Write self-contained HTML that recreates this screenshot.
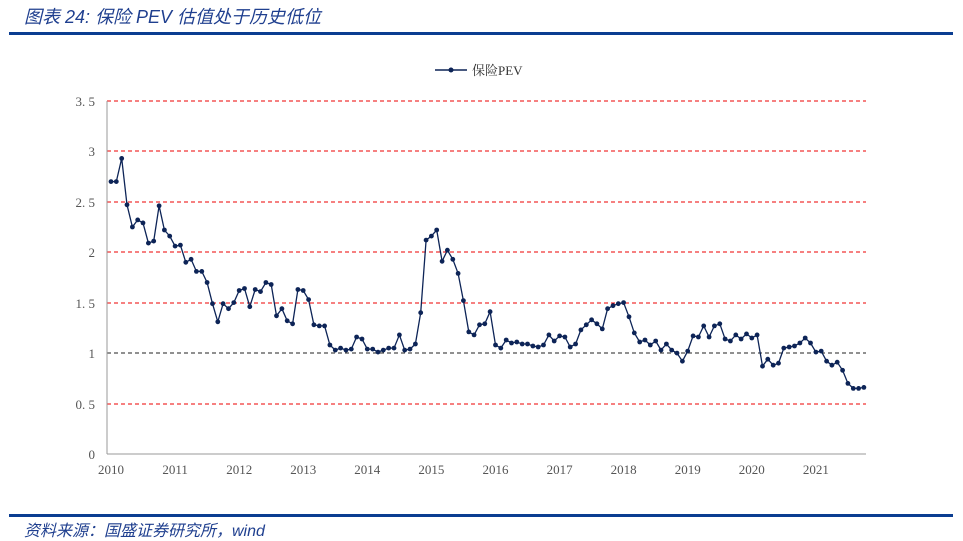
<!DOCTYPE html><html><head><meta charset="utf-8"><style>
body{margin:0;width:963px;height:541px;background:#fff;overflow:hidden;position:relative;font-family:"Liberation Sans","Noto Sans CJK SC",sans-serif}
.t{position:absolute;left:24px;top:3px;font-size:18px;font-style:italic;color:#1f3f8f}
.f{position:absolute;left:24px;top:517px;font-size:16px;font-style:italic;color:#1f3f8f}
</style></head><body>
<div class="t">图表 24:  保险 PEV 估值处于历史低位</div>
<div style="position:absolute;left:9px;top:32px;width:944px;height:3px;background:#0b3d91"></div>
<div style="position:absolute;left:9px;top:514px;width:944px;height:3px;background:#0b3d91"></div>
<div class="f">资料来源：国盛证券研究所，wind</div>
<svg width="963" height="541" style="position:absolute;left:0;top:0" font-family="Liberation Serif,serif" font-size="13" fill="#555">
<g stroke="#e00" stroke-dasharray="4,3" stroke-width="1">
<line x1="107" x2="866" y1="101" y2="101"/><line x1="107" x2="866" y1="151" y2="151"/><line x1="107" x2="866" y1="202" y2="202"/><line x1="107" x2="866" y1="252" y2="252"/><line x1="107" x2="866" y1="303" y2="303"/><line x1="107" x2="866" y1="404" y2="404"/>
</g>
<line x1="107" x2="866" y1="353" y2="353" stroke="#222" stroke-dasharray="4,3"/>
<line x1="107" x2="107" y1="101" y2="454" stroke="#999"/>
<line x1="107" x2="866" y1="454" y2="454" stroke="#999"/>
<g text-anchor="end"><text x="95" y="106">3. 5</text><text x="95" y="156">3</text><text x="95" y="207">2. 5</text><text x="95" y="257">2</text><text x="95" y="308">1. 5</text><text x="95" y="358">1</text><text x="95" y="409">0. 5</text><text x="95" y="459">0</text></g>
<g text-anchor="middle" id="xl"></g>
<line x1="435" x2="467" y1="70" y2="70" stroke="#0d2457" stroke-width="1.5"/><circle cx="451" cy="70" r="2.5" fill="#0d2457"/>
<text x="472" y="75" font-family="Liberation Serif,Noto Serif CJK SC,serif" fill="#333">保险PEV</text>
<g id="s"></g>
</svg>
<script>
var d=[2.7,2.7,2.93,2.47,2.25,2.32,2.29,2.09,2.11,2.46,2.22,2.16,2.06,2.07,1.9,1.93,1.81,1.81,1.7,1.49,1.31,1.49,1.44,1.5,1.62,1.64,1.46,1.63,1.61,1.7,1.68,1.37,1.44,1.32,1.29,1.63,1.62,1.53,1.28,1.27,1.27,1.08,1.03,1.05,1.03,1.04,1.16,1.14,1.04,1.04,1.01,1.03,1.05,1.05,1.18,1.03,1.04,1.09,1.4,2.12,2.16,2.22,1.91,2.02,1.93,1.79,1.52,1.21,1.18,1.28,1.29,1.41,1.08,1.05,1.13,1.1,1.11,1.09,1.09,1.07,1.06,1.08,1.18,1.12,1.17,1.16,1.06,1.09,1.23,1.28,1.33,1.29,1.24,1.44,1.47,1.49,1.5,1.36,1.2,1.11,1.13,1.08,1.12,1.03,1.09,1.03,1.0,0.92,1.02,1.17,1.16,1.27,1.16,1.27,1.29,1.14,1.12,1.18,1.14,1.19,1.15,1.18,0.87,0.94,0.88,0.9,1.05,1.06,1.07,1.1,1.15,1.1,1.01,1.02,0.92,0.88,0.91,0.83,0.7,0.65,0.65,0.66];
var ns="http://www.w3.org/2000/svg",g=document.getElementById("s"),p=[],h="";
d.forEach(function(v,i){var x=111+i*5.34,y=454-v*100.9;p.push(x.toFixed(1)+","+y.toFixed(1));h+='<circle cx="'+x.toFixed(1)+'" cy="'+y.toFixed(1)+'" r="2.4" fill="#0d2457"/>';});
g.innerHTML='<polyline points="'+p.join(" ")+'" fill="none" stroke="#0d2457" stroke-width="1.3"/>'+h;
var xl="";for(var y=0;y<12;y++){xl+='<text x="'+(111+y*64.08).toFixed(1)+'" y="474">'+(2010+y)+'</text>';}
document.getElementById("xl").innerHTML=xl;
</script>
</body></html>
